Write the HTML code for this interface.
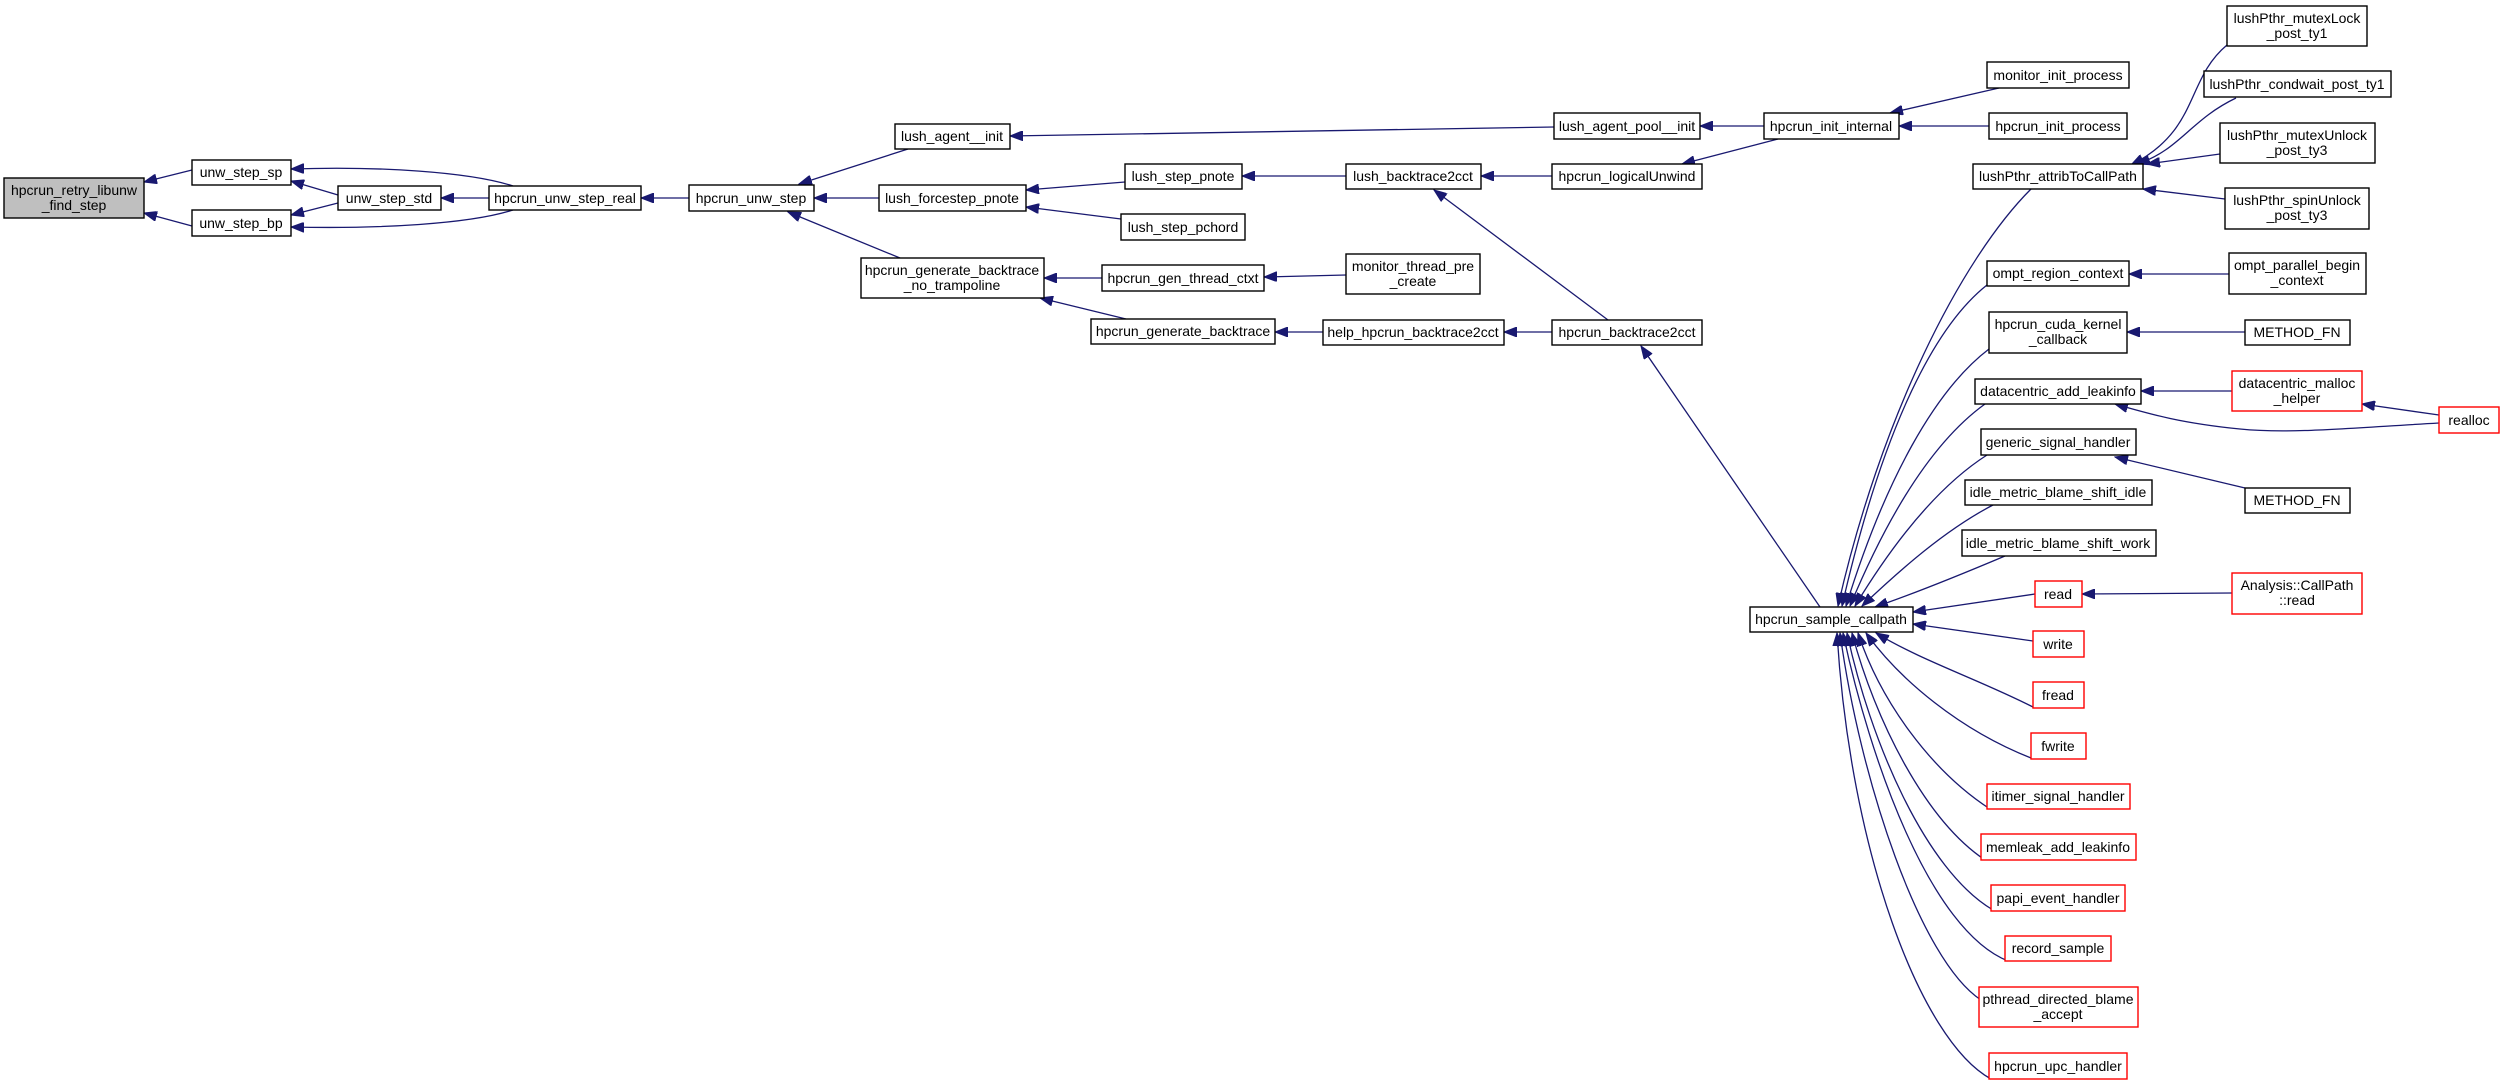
<!DOCTYPE html>
<html><head><meta charset="utf-8"><style>
html,body{margin:0;padding:0;background:#fff;}
svg{display:block;}
text{font-family:"Liberation Sans",sans-serif;font-size:14px;fill:#000;text-anchor:middle;}
rect{fill:#fff;stroke:#000;stroke-width:1.4;}
rect.r{stroke:#ff0000;}
rect.g{fill:#bfbfbf;}
path{fill:none;stroke:#191970;stroke-width:1.3;marker-end:url(#a);}
</style></head><body>
<svg width="2504" height="1085" viewBox="0 0 2504 1085" xmlns="http://www.w3.org/2000/svg">
<defs><marker id="a" markerUnits="userSpaceOnUse" markerWidth="14" markerHeight="10" refX="13" refY="5" orient="auto"><polygon points="0,0 13,5 0,10" fill="#191970" stroke="#191970"/></marker></defs>

<!-- edges -->
<path d="M192,170 L144,182"/>
<path d="M192,226 L144,213"/>
<path d="M338,195 L291,181"/>
<path d="M338,203 L291,215"/>
<path d="M513,186 C470,172 380,166 291,169"/>
<path d="M513,210 C470,224 380,229 291,227"/>
<path d="M489,198 L441,198"/>
<path d="M689,198 L641,198"/>
<path d="M908,149 L799,184"/>
<path d="M879,198 L814,198"/>
<path d="M900,258 L788,212"/>
<path d="M1125,182 L1026,190"/>
<path d="M1121,219 L1026,207"/>
<path d="M1102,278 L1044,278"/>
<path d="M1126,319 L1040,298"/>
<path d="M1346,275 L1264,277"/>
<path d="M1323,332 L1275,332"/>
<path d="M1346,176 L1242,176"/>
<path d="M1554,127 L1010,136"/>
<path d="M1552,176 L1481,176"/>
<path d="M1608,320 L1434,190"/>
<path d="M1552,332 L1504,332"/>
<path d="M1764,126 L1700,126"/>
<path d="M1778,139 L1682,164"/>
<path d="M1999,88 L1890,113"/>
<path d="M1989,126 L1899,126"/>
<path d="M1820,607 L1641,346"/>
<path d="M2227,45 C2185,80 2200,130 2131,165"/>
<path d="M2236,98 C2190,120 2180,150 2137,164"/>
<path d="M2220,154 L2147,164"/>
<path d="M2225,199 L2143,189"/>
<path d="M2229,274 L2129,274"/>
<path d="M2245,332 L2127,332"/>
<path d="M2232,391 L2141,391"/>
<path d="M2439,415 L2362,404"/>
<path d="M2439,423 C2350,428 2290,434 2240,429 C2180,423 2150,414 2115,404"/>
<path d="M2245,488 L2115,457"/>
<path d="M2232,593 L2082,594"/>
<!-- to hpcrun_sample_callpath -->
<path d="M2031,189 C1960,260 1880,420 1838,606"/>
<path d="M1987,285 C1930,330 1880,440 1842,606"/>
<path d="M1989,349 C1935,390 1885,480 1846,606"/>
<path d="M1985,404 C1935,440 1890,510 1850,606"/>
<path d="M1987,455 C1940,485 1895,540 1855,606"/>
<path d="M1993,505 C1945,530 1900,570 1862,606"/>
<path d="M2005,556 C1960,575 1910,595 1875,607"/>
<path d="M2035,594 L1913,612"/>
<path d="M2033,641 L1913,624"/>
<path d="M2033,707 C1980,680 1920,660 1876,633"/>
<path d="M2031,758 C1960,730 1900,680 1866,633"/>
<path d="M1990,809 C1930,770 1880,700 1858,633"/>
<path d="M1985,860 C1925,820 1875,720 1852,633"/>
<path d="M1993,910 C1925,870 1870,740 1847,633"/>
<path d="M2008,961 C1930,930 1870,760 1843,633"/>
<path d="M1981,1000 C1920,960 1860,780 1840,633"/>
<path d="M1991,1079 C1920,1040 1850,850 1837,633"/>

<!-- nodes -->
<rect class="g" x="4" y="178" width="140" height="40"/><text x="74" y="195">hpcrun_retry_libunw</text><text x="74" y="210">_find_step</text>
<rect x="192" y="160" width="99" height="25"/><text x="241" y="177">unw_step_sp</text>
<rect x="192" y="210" width="99" height="26"/><text x="241" y="228">unw_step_bp</text>
<rect x="338" y="186" width="103" height="24"/><text x="389" y="203">unw_step_std</text>
<rect x="489" y="186" width="152" height="24"/><text x="565" y="203">hpcrun_unw_step_real</text>
<rect x="689" y="185" width="125" height="26"/><text x="751" y="203">hpcrun_unw_step</text>
<rect x="895" y="124" width="115" height="25"/><text x="952" y="141">lush_agent__init</text>
<rect x="879" y="185" width="147" height="26"/><text x="952" y="203">lush_forcestep_pnote</text>
<rect x="1125" y="164" width="117" height="25"/><text x="1183" y="181">lush_step_pnote</text>
<rect x="1121" y="214" width="124" height="26"/><text x="1183" y="232">lush_step_pchord</text>
<rect x="861" y="258" width="183" height="40"/><text x="952" y="275">hpcrun_generate_backtrace</text><text x="952" y="290">_no_trampoline</text>
<rect x="1102" y="265" width="162" height="26"/><text x="1183" y="283">hpcrun_gen_thread_ctxt</text>
<rect x="1346" y="254" width="134" height="40"/><text x="1413" y="271">monitor_thread_pre</text><text x="1413" y="286">_create</text>
<rect x="1091" y="319" width="184" height="25"/><text x="1183" y="336">hpcrun_generate_backtrace</text>
<rect x="1323" y="320" width="181" height="25"/><text x="1413" y="337">help_hpcrun_backtrace2cct</text>
<rect x="1346" y="164" width="135" height="25"/><text x="1413" y="181">lush_backtrace2cct</text>
<rect x="1554" y="113" width="146" height="26"/><text x="1627" y="131">lush_agent_pool__init</text>
<rect x="1552" y="164" width="150" height="25"/><text x="1627" y="181">hpcrun_logicalUnwind</text>
<rect x="1552" y="320" width="150" height="25"/><text x="1627" y="337">hpcrun_backtrace2cct</text>
<rect x="1764" y="113" width="135" height="26"/><text x="1831" y="131">hpcrun_init_internal</text>
<rect x="1987" y="62" width="142" height="26"/><text x="2058" y="80">monitor_init_process</text>
<rect x="1989" y="113" width="138" height="26"/><text x="2058" y="131">hpcrun_init_process</text>
<rect x="1750" y="607" width="163" height="25"/><text x="1831" y="624">hpcrun_sample_callpath</text>
<rect x="2227" y="6" width="140" height="40"/><text x="2297" y="23">lushPthr_mutexLock</text><text x="2297" y="38">_post_ty1</text>
<rect x="2204" y="71" width="187" height="26"/><text x="2297" y="89">lushPthr_condwait_post_ty1</text>
<rect x="2220" y="123" width="155" height="40"/><text x="2297" y="140">lushPthr_mutexUnlock</text><text x="2297" y="155">_post_ty3</text>
<rect x="1973" y="164" width="170" height="25"/><text x="2058" y="181">lushPthr_attribToCallPath</text>
<rect x="2225" y="188" width="144" height="41"/><text x="2297" y="205">lushPthr_spinUnlock</text><text x="2297" y="220">_post_ty3</text>
<rect x="1987" y="261" width="142" height="25"/><text x="2058" y="278">ompt_region_context</text>
<rect x="2229" y="253" width="137" height="41"/><text x="2297" y="270">ompt_parallel_begin</text><text x="2297" y="285">_context</text>
<rect x="1989" y="312" width="138" height="41"/><text x="2058" y="329">hpcrun_cuda_kernel</text><text x="2058" y="344">_callback</text>
<rect x="2245" y="320" width="105" height="25"/><text x="2297" y="337">METHOD_FN</text>
<rect x="1975" y="379" width="166" height="25"/><text x="2058" y="396">datacentric_add_leakinfo</text>
<rect class="r" x="2232" y="371" width="130" height="40"/><text x="2297" y="388">datacentric_malloc</text><text x="2297" y="403">_helper</text>
<rect class="r" x="2439" y="407" width="60" height="26"/><text x="2469" y="425">realloc</text>
<rect x="1981" y="429" width="155" height="26"/><text x="2058" y="447">generic_signal_handler</text>
<rect x="2245" y="488" width="105" height="25"/><text x="2297" y="505">METHOD_FN</text>
<rect x="1965" y="480" width="187" height="25"/><text x="2058" y="497">idle_metric_blame_shift_idle</text>
<rect x="1962" y="530" width="194" height="26"/><text x="2058" y="548">idle_metric_blame_shift_work</text>
<rect class="r" x="2035" y="581" width="47" height="26"/><text x="2058" y="599">read</text>
<rect class="r" x="2232" y="573" width="130" height="41"/><text x="2297" y="590">Analysis::CallPath</text><text x="2297" y="605">::read</text>
<rect class="r" x="2033" y="631" width="51" height="26"/><text x="2058" y="649">write</text>
<rect class="r" x="2033" y="682" width="51" height="26"/><text x="2058" y="700">fread</text>
<rect class="r" x="2031" y="733" width="55" height="26"/><text x="2058" y="751">fwrite</text>
<rect class="r" x="1987" y="784" width="143" height="25"/><text x="2058" y="801">itimer_signal_handler</text>
<rect class="r" x="1981" y="834" width="155" height="26"/><text x="2058" y="852">memleak_add_leakinfo</text>
<rect class="r" x="1991" y="885" width="134" height="26"/><text x="2058" y="903">papi_event_handler</text>
<rect class="r" x="2005" y="936" width="106" height="25"/><text x="2058" y="953">record_sample</text>
<rect class="r" x="1979" y="987" width="159" height="40"/><text x="2058" y="1004">pthread_directed_blame</text><text x="2058" y="1019">_accept</text>
<rect class="r" x="1989" y="1053" width="138" height="26"/><text x="2058" y="1071">hpcrun_upc_handler</text>
</svg>
</body></html>
